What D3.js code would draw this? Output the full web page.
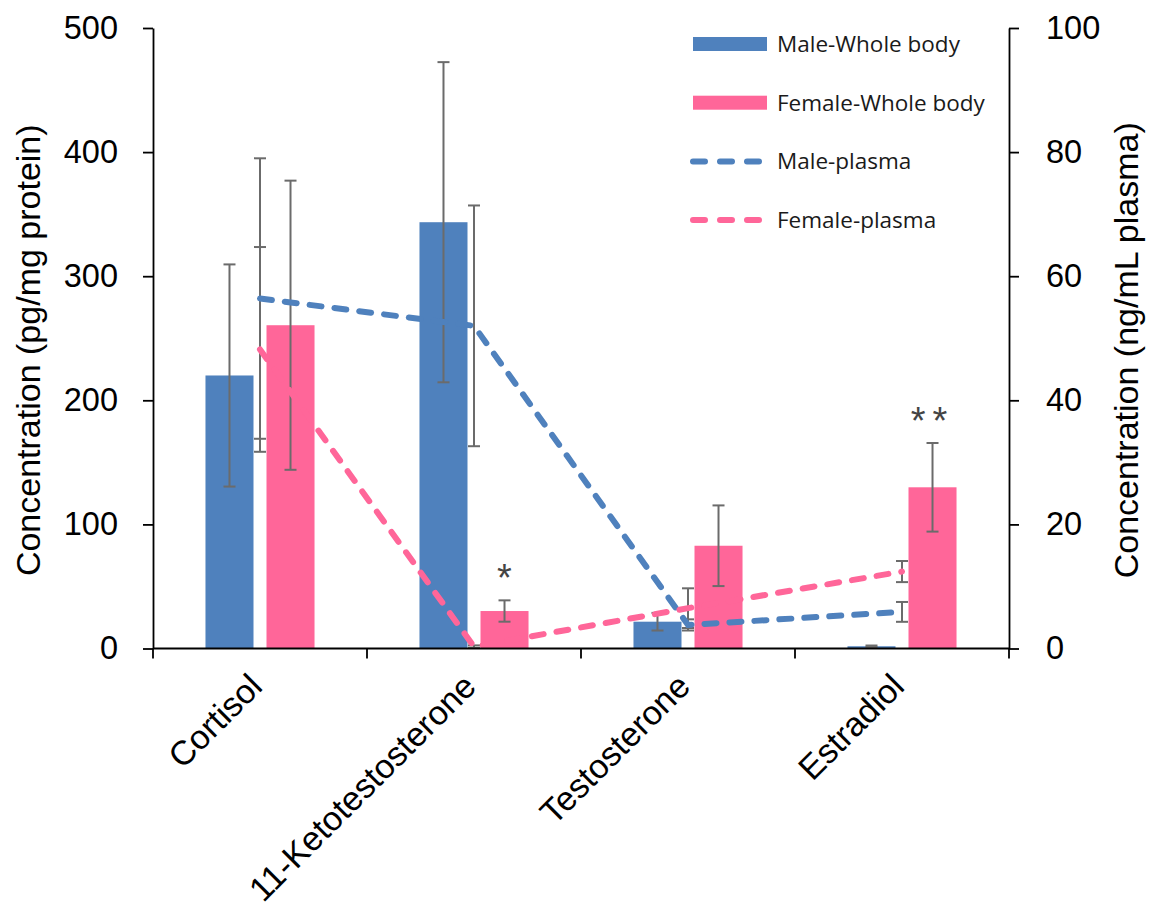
<!DOCTYPE html>
<html>
<head>
<meta charset="utf-8">
<script src="https://cdn.jsdelivr.net/npm/d3@7"></script>
<style>
  html, body { margin: 0; padding: 0; background: #fff; }
  svg { display: block; }
  .axis text { font-family: "Liberation Sans", Arial, sans-serif; font-size: 32.5px; fill: #000; }
  .axis text.cat { font-size: 34px; }
  .axis path, .axis line { stroke: #000; stroke-width: 1.8; }
</style>
</head>
<body>
<svg id="chart" width="1157" height="908"></svg>
<script>
// Steroid concentrations: whole-body (left axis) and plasma (right axis)
const categories = ["Cortisol", "11-Ketotestosterone", "Testosterone", "Estradiol"];

const maleWhole      = [220.0, 343.5, 21.6, 1.8];
const maleWholeErr   = [89.5, 129.0, 7.1, 0.6];
const femaleWhole    = [260.5, 30.2, 82.8, 129.9];
const femaleWholeErr = [116.5, 8.6, 32.5, 35.7];

const malePlasma      = [56.4, 52.0, 3.8, 5.9];
const malePlasmaErr   = [22.6, 19.4, 0.9, 1.6];
const femalePlasma    = [48.2, 0.3, 6.5, 12.4];
const femalePlasmaErr = [16.5, 0.2, 3.2, 1.7];

// significance marks over the female whole-body bars
const significance = ["", "*", "", "**"];

const leftTicks  = [0, 100, 200, 300, 400, 500];
const rightTicks = [0, 20, 40, 60, 80, 100];

const seriesNames = ["Male-Whole body", "Female-Whole body", "Male-plasma", "Female-plasma"];

const BLUE = "#4f81bd";
const PINK = "#ff6699";
const ERR  = "#6b6b6b";

const svg = d3.select("#chart");

const plot = { left: 153, right: 1009, top: 28, bottom: 648.5 };

const x0 = d3.scaleBand().domain(categories).range([plot.left, plot.right]).padding(0);
const x1 = d3.scaleBand().domain(["male", "female"])
  .range([0, x0.bandwidth()]).paddingInner(0.213).paddingOuter(0.86);
const yL = d3.scaleLinear().domain([0, 500]).range([plot.bottom, plot.top]);
const yR = d3.scaleLinear().domain([0, 100]).range([plot.bottom, plot.top]);

const barData = [];
categories.forEach((c, i) => {
  barData.push({ cat: c, key: "male", v: maleWhole[i], e: maleWholeErr[i], color: BLUE });
  barData.push({ cat: c, key: "female", v: femaleWhole[i], e: femaleWholeErr[i], color: PINK });
});

// bars
svg.append("g").selectAll("rect").data(barData).join("rect")
  .attr("x", d => x0(d.cat) + x1(d.key))
  .attr("width", x1.bandwidth())
  .attr("y", d => yL(d.v))
  .attr("height", d => yL(0) - yL(d.v))
  .attr("fill", d => d.color);

function errorBars(g, data, xf, yf, cap) {
  const grp = g.selectAll("g").data(data).join("g");
  const lo = d => yf(Math.max(0, d.v - d.e));
  const hi = d => yf(d.v + d.e);
  grp.append("line")
    .attr("x1", xf).attr("x2", xf)
    .attr("y1", hi).attr("y2", lo);
  grp.append("line")
    .attr("x1", d => xf(d) - cap).attr("x2", d => xf(d) + cap)
    .attr("y1", hi).attr("y2", hi);
  grp.append("line")
    .attr("x1", d => xf(d) - cap).attr("x2", d => xf(d) + cap)
    .attr("y1", lo).attr("y2", lo);
}

// whole-body error bars
errorBars(svg.append("g").attr("stroke", ERR).attr("stroke-width", 2),
  barData, d => x0(d.cat) + x1(d.key) + x1.bandwidth() / 2, yL, 6);

// plasma error bars (at category centres)
const plasmaData = [
  { name: "male", values: malePlasma, errs: malePlasmaErr, color: BLUE },
  { name: "female", values: femalePlasma, errs: femalePlasmaErr, color: PINK }
];
const plasmaErrData = [];
plasmaData.forEach(s => categories.forEach((c, i) =>
  plasmaErrData.push({ cat: c, v: s.values[i], e: s.errs[i] })));
errorBars(svg.append("g").attr("stroke", ERR).attr("stroke-width", 2),
  plasmaErrData, d => x0(d.cat) + x0.bandwidth() / 2, yR, 6);

// plasma dashed lines
const line = d3.line()
  .x((d, i) => x0(categories[i]) + x0.bandwidth() / 2)
  .y(d => yR(d));
svg.append("g").selectAll("path").data(plasmaData).join("path")
  .attr("d", d => line(d.values))
  .attr("fill", "none")
  .attr("stroke", d => d.color)
  .attr("stroke-width", 6)
  .attr("stroke-linecap", "round")
  .attr("stroke-dasharray", "12 13");

// significance asterisks
svg.append("g").selectAll("text").data(categories).join("text")
  .attr("x", (c, i) => x0(c) + x1("female") + x1.bandwidth() / 2)
  .attr("y", (c, i) => yL(femaleWhole[i] + femaleWholeErr[i]) - 9)
  .attr("text-anchor", "middle")
  .attr("font-family", "Liberation Sans, Arial, sans-serif")
  .attr("font-size", 38)
  .attr("letter-spacing", (c, i) => significance[i].length > 1 ? 7 : 0)
  .attr("fill", "#444")
  .text((c, i) => significance[i]);

// left axis
svg.append("g").attr("class", "axis")
  .attr("transform", `translate(${plot.left},0)`)
  .call(d3.axisLeft(yL).tickValues(leftTicks).tickSize(10).tickSizeOuter(0).tickPadding(25));

// right axis
svg.append("g").attr("class", "axis")
  .attr("transform", `translate(${plot.right},0)`)
  .call(d3.axisRight(yR).tickValues(rightTicks).tickSize(10).tickSizeOuter(0).tickPadding(27));

// category axis: boundary ticks and rotated labels
const xAxis = svg.append("g").attr("class", "axis");
xAxis.append("line")
  .attr("x1", plot.left).attr("x2", plot.right)
  .attr("y1", plot.bottom).attr("y2", plot.bottom);
const bounds = categories.map(c => x0(c)).concat([x0.range()[1]]);
xAxis.selectAll("line.tick").data(bounds).join("line")
  .attr("class", "tick")
  .attr("x1", d => d).attr("x2", d => d)
  .attr("y1", plot.bottom).attr("y2", plot.bottom + 10);
xAxis.selectAll("text").data(categories).join("text")
  .attr("class", "cat")
  .attr("text-anchor", "end")
  .attr("transform", c => `translate(${x0(c) + x0.bandwidth() / 2 + 4},${plot.bottom + 40}) rotate(-45)`)
  .text(c => c);

// axis titles
svg.append("text")
  .attr("transform", `translate(40,${(plot.top + plot.bottom) / 2 + 12}) rotate(-90)`)
  .attr("text-anchor", "middle")
  .attr("font-family", "Liberation Sans, Arial, sans-serif")
  .attr("font-size", 34)
  .text("Concentration (pg/mg protein)");
svg.append("text")
  .attr("transform", `translate(1138,${(plot.top + plot.bottom) / 2 + 12}) rotate(-90)`)
  .attr("text-anchor", "middle")
  .attr("font-family", "Liberation Sans, Arial, sans-serif")
  .attr("font-size", 34)
  .text("Concentration (ng/mL plasma)");

// legend
const legend = svg.append("g").attr("transform", "translate(690,44)");
const legendItems = [
  { name: seriesNames[0], color: BLUE, type: "bar" },
  { name: seriesNames[1], color: PINK, type: "bar" },
  { name: seriesNames[2], color: BLUE, type: "line" },
  { name: seriesNames[3], color: PINK, type: "line" }
];
const li = legend.selectAll("g").data(legendItems).join("g")
  .attr("transform", (d, i) => `translate(0,${i * 58.7})`);
li.filter(d => d.type === "bar").append("rect")
  .attr("x", 3).attr("y", -7).attr("width", 74).attr("height", 14)
  .attr("fill", d => d.color);
li.filter(d => d.type === "line").append("line")
  .attr("x1", 3).attr("x2", 75).attr("y1", 0).attr("y2", 0)
  .attr("stroke", d => d.color).attr("stroke-width", 6)
  .attr("stroke-linecap", "round").attr("stroke-dasharray", "12 15");
li.append("text")
  .attr("x", 87).attr("y", 0).attr("dy", "0.35em")
  .attr("font-family", "'Open Sans', 'Noto Sans', sans-serif")
  .attr("font-size", 22.5)
  .attr("fill", "#1a1a1a")
  .text(d => d.name);
</script>
</body>
</html>
